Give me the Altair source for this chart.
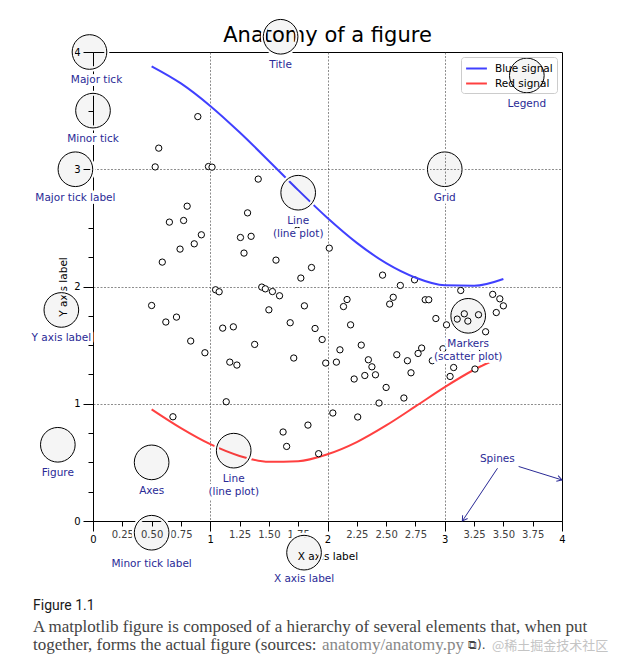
import math
import altair as alt
import pandas as pd

# ---------------- data ----------------
tick_values = [0.0, 0.25, 0.5, 0.75, 1.0, 1.25, 1.5, 1.75, 2.0,
               2.25, 2.5, 2.75, 3.0, 3.25, 3.5, 3.75, 4.0]

scatter_x = [0.5, 0.5303, 0.5606, 0.5909, 0.6212, 0.6515, 0.6818, 0.7121, 0.7424, 0.7727,
             0.803, 0.8333, 0.8636, 0.8939, 0.9242, 0.9545, 0.9848, 1.0152, 1.0455, 1.0758,
             1.1061, 1.1364, 1.1667, 1.197, 1.2273, 1.2576, 1.2879, 1.3182, 1.3485, 1.3788,
             1.4091, 1.4394, 1.4697, 1.5, 1.5303, 1.5606, 1.5909, 1.6212, 1.6515, 1.6818,
             1.7121, 1.7424, 1.7727, 1.803, 1.8333, 1.8636, 1.8939, 1.9242, 1.9545, 1.9848,
             2.0152, 2.0455, 2.0758, 2.1061, 2.1364, 2.1667, 2.197, 2.2273, 2.2576, 2.2879,
             2.3182, 2.3485, 2.3788, 2.4091, 2.4394, 2.4697, 2.5, 2.5303, 2.5606, 2.5909,
             2.6212, 2.6515, 2.6818, 2.7121, 2.7424, 2.7727, 2.803, 2.8333, 2.8636, 2.8939,
             2.9242, 2.9545, 2.9848, 3.0152, 3.0455, 3.0758, 3.1061, 3.1364, 3.1667, 3.197,
             3.2273, 3.2576, 3.2879, 3.3182, 3.3485, 3.3788, 3.4091, 3.4394, 3.4697, 3.5]
scatter_y = [1.838, 3.020, 3.180, 2.208, 1.697, 2.549, 0.889, 1.739, 2.319, 2.563,
             2.685, 1.535, 2.364, 3.449, 2.441, 1.435, 3.023, 3.018, 1.972, 1.955,
             1.645, 1.017, 1.355, 1.656, 1.330, 2.418, 2.285, 2.628, 2.428, 1.506,
             2.916, 1.995, 1.980, 1.801, 1.957, 2.225, 1.921, 0.759, 0.636, 1.691,
             1.390, 2.480, 2.072, 1.835, 0.818, 2.162, 1.642, 0.574, 1.548, 1.347,
             2.327, 0.921, 1.355, 1.460, 1.829, 1.889, 1.673, 1.211, 0.887, 1.500,
             1.241, 1.375, 1.315, 1.247, 1.006, 2.097, 1.139, 1.850, 1.908, 1.418,
             2.009, 1.049, 1.367, 1.264, 2.057, 1.429, 1.475, 1.887, 1.887, 1.367,
             1.727, 1.400, 1.469, 1.673, 1.233, 1.309, 1.722, 1.966, 1.767, 1.705,
             1.418, 1.296, 1.759, 1.469, 1.614, 1.392, 1.933, 1.778, 1.895, 1.835]

line_x = [0.5, 0.75, 1.0, 1.25, 1.5, 1.75, 2.0, 2.25, 2.5, 2.75, 3.0, 3.25, 3.5]
blue_y = [3.878, 3.732, 3.540, 3.315, 3.071, 2.822, 2.584, 2.372, 2.199, 2.076, 2.010, 2.006, 2.064]
red_y = [0.952, 0.792, 0.655, 0.555, 0.505, 0.510, 0.569, 0.673, 0.815, 0.977, 1.142, 1.290, 1.407]
series_names = ["Blue signal", "Red signal"]
series_colors = ["#4040ff", "#ff4040"]

label_text = ["Minor tick label", "Major tick", "Minor tick", "Major tick label",
              "X axis label", "Y axis label", "Title", "Line\n(line plot)",
              "Line\n(line plot)", "Markers\n(scatter plot)", "Grid", "Legend",
              "Axes", "Figure"]
label_x = [0.50, 0.03, 0.00, -0.15, 1.80, -0.27, 1.60, 1.75, 1.20, 3.20, 3.00, 3.70, 0.50, -0.30]
label_y = [-0.32, 3.80, 3.30, 2.80, -0.45, 1.60, 3.93, 2.60, 0.40, 1.55, 2.80, 3.60, 0.30, 0.45]

circle_x = [0.50, -0.03, 0.00, -0.15, 1.80, -0.27, 1.60, 1.75, 1.20, 3.20, 3.00, 3.70, 0.50, -0.30]
circle_y = [-0.10, 4.00, 3.50, 3.00, -0.27, 1.80, 4.13, 2.80, 0.60, 1.75, 3.00, 3.80, 0.50, 0.65]

arrow_x = [3.63, 3.45]
arrow_y = [0.465, 0.45]
arrow_x2 = [4.00, 3.15]
arrow_y2 = [0.35, 0.00]
spines_text = ["Spines"]
spines_x = [3.30]
spines_y = [0.50]

title_text = "Anatomy of a figure"
caption_title = "Figure 1.1"
caption_line1 = "A matplotlib figure is composed of a hierarchy of several elements that, when put"
caption_line2a = "together, forms the actual figure (sources: "
caption_line2b = "anatomy/anatomy.py"
caption_line2c = "\u29c9)."
watermark = "@稀土掘金技术社区"

# ---------------- tables ----------------
lines_df = pd.DataFrame({
    "x": line_x + line_x,
    "y": blue_y + red_y,
    "series": [series_names[0]] * len(line_x) + [series_names[1]] * len(line_x),
})
blue_df = lines_df[lines_df.series == series_names[0]]
red_df = lines_df[lines_df.series == series_names[1]]
scatter_df = pd.DataFrame({"x": scatter_x, "y": scatter_y})
labels_df = pd.DataFrame({"x": label_x, "y": label_y, "label": label_text})
circles_df = pd.DataFrame({"x": circle_x, "y": circle_y})
arrows_df = pd.DataFrame({"x": arrow_x, "y": arrow_y, "x2": arrow_x2, "y2": arrow_y2})
# direction of each arrow on screen (both axes share the same px/unit)
arrows_df["angle"] = [
    (math.degrees(math.atan2(-(b2 - b1), a2 - a1)) + 360) % 360
    for a1, b1, a2, b2 in zip(arrow_x, arrow_y, arrow_x2, arrow_y2)
]
spines_df = pd.DataFrame({"x": spines_x, "y": spines_y, "t": spines_text})

# ---------------- style ----------------
NAVY = "#2a2a96"
FONT = "DejaVu Sans"
MAJOR = "datum.value % 1 === 0"
PLOT = 469

common_axis = dict(
    values=tick_values,
    tickSize={"condition": {"test": MAJOR, "value": 10}, "value": 5},
    tickColor="black", tickWidth=1,
    domainColor="black", domainWidth=1,
    labelFont=FONT, labelFontSize=10,
    labelColor={"condition": {"test": MAJOR, "value": "black"}, "value": "#404040"},
    labelPadding=3, labelFlush=False, labelOverlap=False,
    grid=True, gridColor="#404040", gridWidth=0.6, gridDash=[2, 1.5],
    gridOpacity={"condition": {"test": MAJOR + " && datum.value > 0 && datum.value < 4", "value": 1},
                 "value": 0},
    titleFont=FONT, titleFontSize=10.5, titleFontWeight="normal", titleColor="black",
)
x_axis = alt.Axis(title="X axis label", titlePadding=7,
                  labelExpr="datum.value % 1 === 0 ? format(datum.value, 'd') : format(datum.value, '.2f')",
                  **common_axis)
y_axis = alt.Axis(title="Y axis label", titlePadding=5,
                  labelExpr="datum.value % 1 === 0 ? format(datum.value, 'd') : ''",
                  **common_axis)
xs = alt.Scale(domain=[0, 4], nice=False, zero=False)
ys = alt.Scale(domain=[0, 4], nice=False, zero=False)

X = alt.X("x:Q", scale=xs, axis=x_axis)
Y = alt.Y("y:Q", scale=ys, axis=y_axis)

legend = alt.Legend(title=None, orient="top-right", offset=5, padding=4,
                    symbolType="M-1.6,0L1.6,0", symbolSize=169, symbolStrokeWidth=2,
                    symbolOffset=4,
                    labelFont=FONT, labelFontSize=10.5, labelColor="black",
                    labelOffset=11, rowPadding=2, strokeColor="#cccccc",
                    cornerRadius=3)
COLOR = alt.Color("series:N", scale=alt.Scale(domain=series_names, range=series_colors),
                  legend=legend)

# ---------------- layers ----------------
red_line = alt.Chart(red_df).mark_line(strokeWidth=2, interpolate="monotone").encode(
    x=X, y=Y, color=COLOR)
blue_line = alt.Chart(blue_df).mark_line(strokeWidth=2, interpolate="monotone").encode(
    x=X, y=Y, color=COLOR)

scatter = alt.Chart(scatter_df).mark_point(
    shape="circle", size=40, filled=True, fill="white", stroke="black",
    strokeWidth=1, opacity=1).encode(x=X, y=Y)

text_style = dict(align="center", baseline="top", lineBreak="\n", lineHeight=13,
                  font=FONT, fontSize=10.5)
label_halo = alt.Chart(labels_df).mark_text(
    fill="white", stroke="white", strokeWidth=6, strokeJoin="round", **text_style
).encode(x=X, y=Y, text="label:N")
labels = alt.Chart(labels_df).mark_text(fill=NAVY, **text_style).encode(
    x=X, y=Y, text="label:N")

spines_label = alt.Chart(spines_df).mark_text(
    align="left", baseline="alphabetic", font=FONT, fontSize=10.5, fill=NAVY
).encode(x=X, y=Y, text="t:N")
arrow_lines = alt.Chart(arrows_df).mark_rule(color=NAVY, strokeWidth=1).encode(
    x=X, y=Y, x2="x2:Q", y2="y2:Q")
arrow_heads = alt.Chart(arrows_df).mark_point(
    shape="M-1,-0.6L0,0L-1,0.6", size=100, filled=False, stroke=NAVY,
    strokeWidth=1, opacity=1
).encode(x=alt.X("x2:Q", scale=xs, axis=x_axis), y=alt.Y("y2:Q", scale=ys, axis=y_axis),
         angle=alt.Angle("angle:Q", scale=None))

circle_halo = alt.Chart(circles_df).mark_point(
    shape="circle", size=1200, filled=False, stroke="white", strokeWidth=5, opacity=1
).encode(x=X, y=Y)
circles = alt.Chart(circles_df).mark_point(
    shape="circle", size=1200, filled=True, fill="black", fillOpacity=0.04,
    stroke="black", strokeWidth=1, strokeOpacity=1
).encode(x=X, y=Y)


def pixel_text(text, px, py, align="left", baseline="middle", **kw):
    return alt.Chart(pd.DataFrame({"t": [text]})).mark_text(
        align=align, baseline=baseline, **kw
    ).encode(text="t:N", x=alt.value(px), y=alt.value(py))


title = pixel_text(title_text, PLOT / 2, -10, align="center", baseline="alphabetic",
                   font=FONT, fontSize=21, fill="black")
cap1 = pixel_text(caption_title, -60, 554, font="Roboto", fontSize=14, fill="#1a1a1a")
cap2 = pixel_text(caption_line1, -60, 575, font="Liberation Serif", fontSize=17, fill="#444444")
cap3 = pixel_text(caption_line2a, -60, 593, font="Liberation Serif", fontSize=17, fill="#444444")
cap4 = pixel_text(caption_line2b, 229, 593, font="Liberation Serif", fontSize=17, fill="#888888")
cap5 = pixel_text(caption_line2c, 375, 593, font="DejaVu Sans", fontSize=12, fill="#444444")
wm = pixel_text(watermark, 399, 594, font="Noto Sans CJK SC", fontSize=13, fill="#c4c4c4")

chart = alt.layer(
    red_line, scatter, blue_line,
    label_halo, labels,
    arrow_lines, arrow_heads, spines_label,
    title,
    circle_halo, circles,
    cap1, cap2, cap3, cap4, cap5, wm,
).properties(
    width=PLOT, height=PLOT,
    padding={"left": 85, "top": 44, "right": 57, "bottom": 135},
    autosize=alt.AutoSizeParams(type="none"),
    background="white",
).configure_view(stroke="black", strokeWidth=1)

chart.save("out.html", embed_options={"renderer": "svg", "actions": False})
